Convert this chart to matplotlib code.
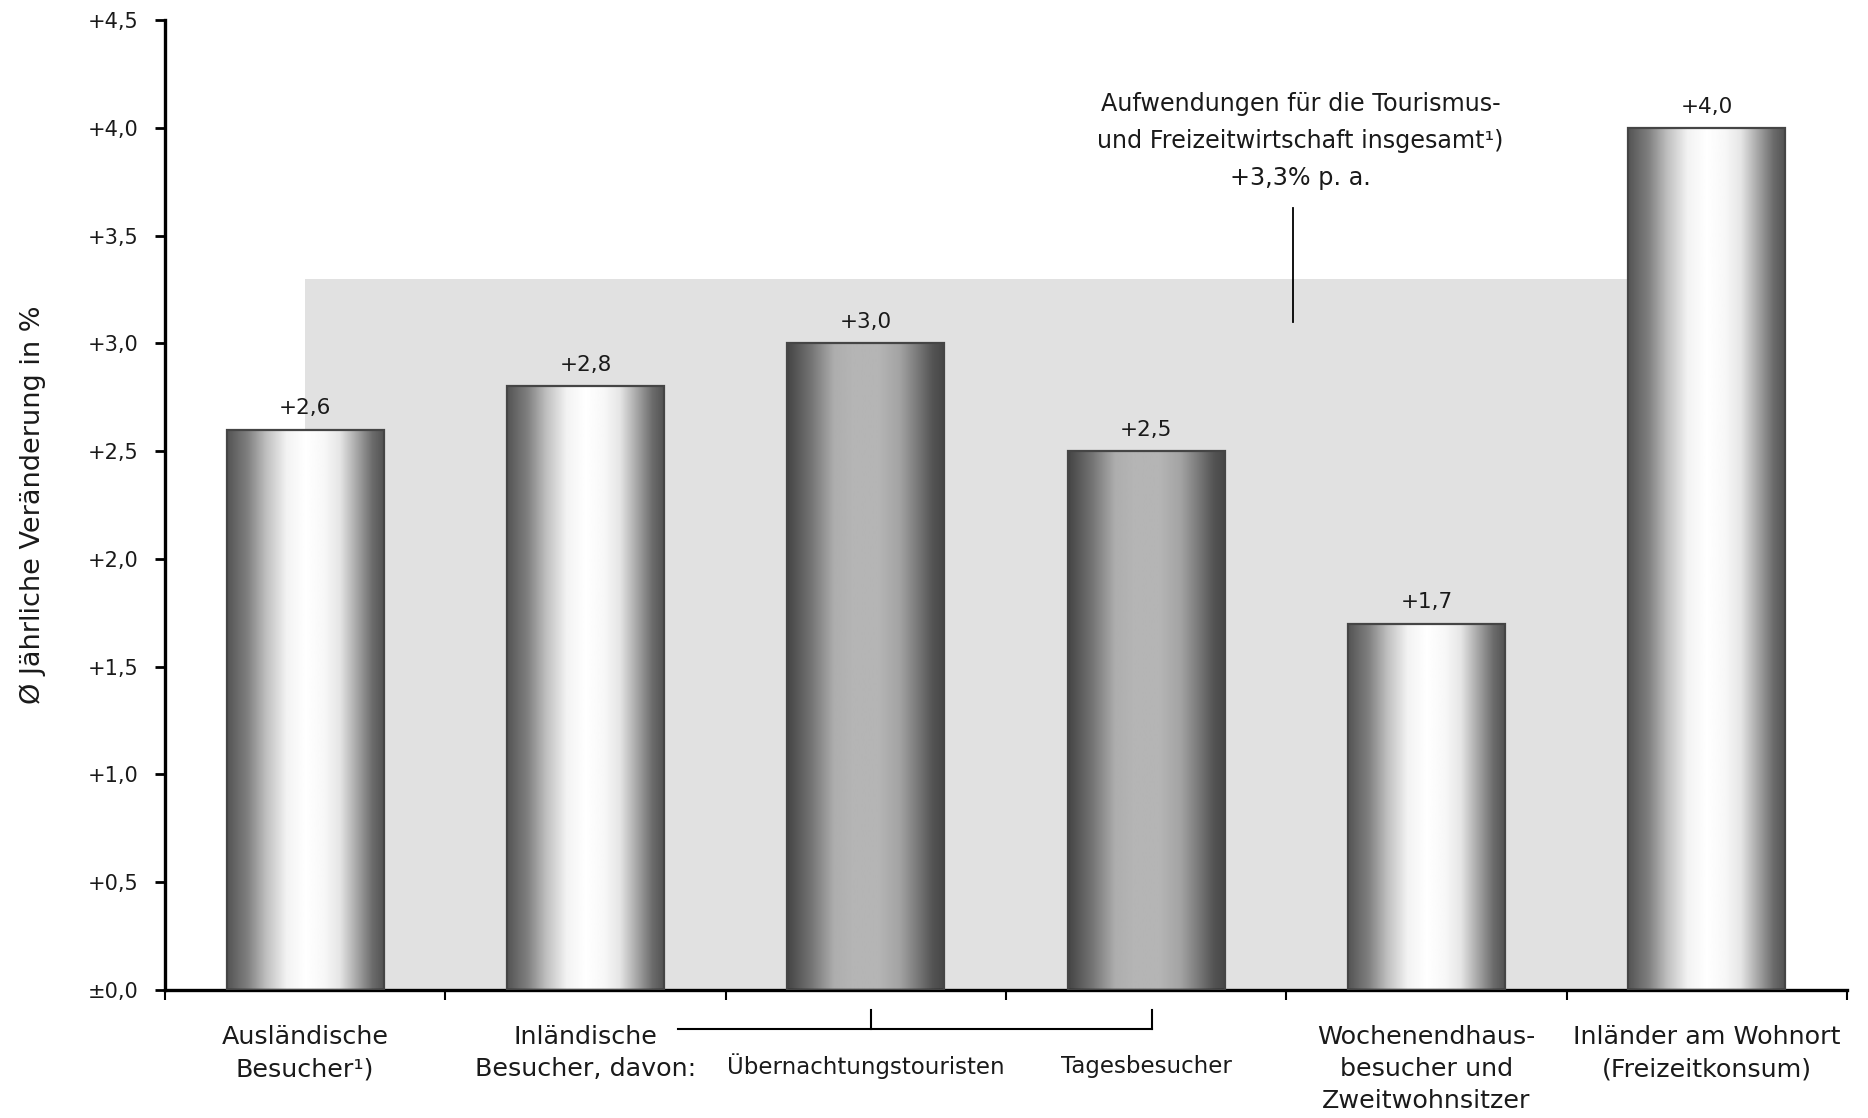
import numpy as np
import matplotlib
matplotlib.use("Agg")
import matplotlib.pyplot as plt
from matplotlib.patches import Rectangle

# --- data -------------------------------------------------------------
categories = [
    "Ausländische\nBesucher¹)",
    "Inländische\nBesucher, davon:",
    "Übernachtungstouristen",
    "Tagesbesucher",
    "Wochenendhaus-\nbesucher und\nZweitwohnsitzer",
    "Inländer am Wohnort\n(Freizeitkonsum)",
]
values = [2.6, 2.8, 3.0, 2.5, 1.7, 4.0]
value_labels = ["+2,6", "+2,8", "+3,0", "+2,5", "+1,7", "+4,0"]
sub_category = [False, False, True, True, False, False]
total_growth = 3.3
total_text = "Aufwendungen für die Tourismus-\nund Freizeitwirtschaft insgesamt¹)\n+3,3% p. a."
yticks = [0.0, 0.5, 1.0, 1.5, 2.0, 2.5, 3.0, 3.5, 4.0, 4.5]
ytick_labels = ["±0,0", "+0,5", "+1,0", "+1,5", "+2,0", "+2,5", "+3,0", "+3,5", "+4,0", "+4,5"]
ylabel = "Ø Jährliche Veränderung in %"

# --- styling ------------------------------------------------------------
plt.rcParams["font.family"] = ["DejaVu Sans"]
TEXT = "#1a1a1a"
BAR_W = 0.56

# horizontal shading profiles across a bar (position, grey level)
light_profile = ([0.0, 0.13, 0.25, 0.38, 0.5, 0.62, 0.72, 0.83, 0.93, 1.0],
                 [0.33, 0.50, 0.75, 0.95, 1.0, 0.97, 0.90, 0.65, 0.42, 0.33])
dark_profile = ([0.0, 0.15, 0.30, 0.42, 0.58, 0.72, 0.85, 0.93, 1.0],
                [0.27, 0.45, 0.68, 0.71, 0.71, 0.64, 0.45, 0.33, 0.28])

fig = plt.figure(figsize=(18.68, 11.18), dpi=100)
ax = fig.add_axes([0.0883, 0.1145, 0.9005, 0.8676])

x = np.arange(len(values))

# grey band showing the overall growth rate
ax.add_patch(Rectangle((x[0], 0), x[-1] - x[0], total_growth,
                       facecolor="#e1e1e1", edgecolor="none", zorder=0.5))

# cylinder-style gradient bars
bars = ax.bar(x, values, width=BAR_W, facecolor="none",
              edgecolor="#454545", linewidth=1.6, zorder=3)
for xi, v, sub, bar in zip(x, values, sub_category, bars):
    pos, lev = dark_profile if sub else light_profile
    grad = np.interp(np.linspace(0, 1, 256), pos, lev)[None, :]
    im = ax.imshow(grad, cmap="gray", vmin=0, vmax=1, aspect="auto",
                   extent=[xi - BAR_W / 2, xi + BAR_W / 2, 0, v],
                   interpolation="bilinear", zorder=2)
    im.set_clip_path(bar)
    ax.annotate(value_labels[xi], (xi, v), xytext=(0, 8), textcoords="offset points",
                ha="center", va="bottom", fontsize=15.5, color=TEXT)

# annotation for the overall figure
ann_x = 3.523
ax.plot([ann_x, ann_x], [3.10, 3.63], color="black", lw=1.3, zorder=4)
ax.text(3.55, 3.94, total_text, ha="center", va="center", fontsize=17.2,
        color=TEXT, linespacing=1.68)

# axes
ax.set_xlim(-0.5, len(values) - 0.5)
ax.set_ylim(0, 4.5)
ax.set_yticks(yticks)
ax.set_yticklabels(ytick_labels, fontsize=15, color=TEXT)
ax.set_xticks(np.arange(-0.5, len(values), 1.0))
ax.set_xticklabels([])
ax.tick_params(axis="y", direction="out", length=7, width=2, pad=12)
ax.tick_params(axis="x", direction="out", length=7, width=1.5)
for s in ["top", "right"]:
    ax.spines[s].set_visible(False)
ax.spines["left"].set_linewidth(2.4)
ax.spines["bottom"].set_linewidth(2.4)
ax.set_ylabel(ylabel, fontsize=19.5, color=TEXT)
ax.yaxis.set_label_coords(-0.071, 0.5)

# category labels
for xi, (lab, sub) in enumerate(zip(categories, sub_category)):
    if sub:
        ax.text(xi, -0.353, lab, ha="center", va="center", fontsize=16.5,
                color=TEXT, clip_on=False)
    else:
        ax.text(xi, -0.163, lab, ha="center", va="top", fontsize=18.3,
                color=TEXT, linespacing=1.42, clip_on=False)

# bracket linking the domestic visitors to its two sub-groups
br_y, br_top = -0.18, -0.093
ax.plot([1.33, 3.02], [br_y, br_y], color="black", lw=1.5, clip_on=False)
for bx in (2.02, 3.02):
    ax.plot([bx, bx], [br_y, br_top], color="black", lw=1.5, clip_on=False)

fig.savefig("out.png", dpi=100)
